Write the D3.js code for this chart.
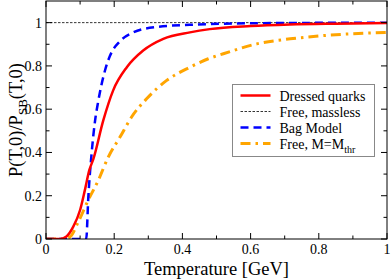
<!DOCTYPE html>
<html>
<head>
<meta charset="utf-8">
<script src="https://cdn.jsdelivr.net/npm/d3@7"></script>
<style>
  html, body { margin: 0; padding: 0; background: #fff; }
  svg { display: block; }
</style>
</head>
<body>
<svg id="chart" width="391" height="280"></svg>
<script>
// values: [T (GeV), P/P_SB]
const dressed = [
  [0, 0], [0.04, 0], [0.06, 0.012], [0.08, 0.057], [0.1, 0.134], [0.114, 0.226],
  [0.127, 0.318], [0.139, 0.37], [0.168, 0.548], [0.197, 0.687], [0.237, 0.794],
  [0.285, 0.871], [0.344, 0.925], [0.422, 0.955], [0.48, 0.97], [0.6, 0.984],
  [0.715, 0.991], [0.85, 0.995], [1.0, 0.998]
];
const massless = [[0, 1], [1, 1]];
const bag = [
  [0, 0], [0.118, 0], [0.124, 0.19], [0.134, 0.4], [0.144, 0.548], [0.153, 0.635],
  [0.173, 0.779], [0.188, 0.848], [0.217, 0.914], [0.256, 0.955], [0.325, 0.98],
  [0.422, 0.99], [0.6, 0.997], [1.0, 1.0]
];
const freeThr = [
  [0, 0], [0.045, 0], [0.07, 0.01], [0.095, 0.08], [0.124, 0.18], [0.153, 0.27],
  [0.183, 0.38], [0.217, 0.471], [0.251, 0.564], [0.295, 0.648], [0.354, 0.733],
  [0.422, 0.794], [0.476, 0.833], [0.52, 0.856], [0.618, 0.902], [0.716, 0.925],
  [0.813, 0.94], [1.0, 0.955]
];
const xTicks = [0, 0.2, 0.4, 0.6, 0.8, 1];
const yTicks = [0, 0.2, 0.4, 0.6, 0.8, 1];
const minorTicks = [0.1, 0.3, 0.5, 0.7, 0.9];
const legendItems = [
  { name: 'Dressed quarks', sub: null, color: '#ff0000', width: 2.5, dash: null },
  { name: 'Free, massless', sub: null, color: '#000', width: 0.8, dash: '2.5,1.5' },
  { name: 'Bag Model', sub: null, color: '#0000ff', width: 2.5, dash: '8,5' },
  { name: 'Free, M=M', sub: 'thr', color: '#ffa500', width: 3, dash: '10,5,2.5,5' }
];

const FONT = 'Liberation Serif';
const svg = d3.select('#chart').attr('font-family', FONT);
const m = { left: 46, right: 4, top: 1, bottom: 41 };
const W = 391, H = 280;

const x = d3.scaleLinear().domain([0, 1]).range([m.left, W - m.right]);
const y = d3.scaleLinear().domain([0, 1.1]).range([H - m.bottom, m.top]);

const line = d3.line().x(d => x(d[0])).y(d => y(d[1])).curve(d3.curveMonotoneX);

const plot = svg.append('g');
plot.append('clipPath').attr('id', 'clip')
  .append('rect').attr('x', x(0)).attr('y', y(1.1)).attr('width', x(1) - x(0)).attr('height', y(0) - y(1.1));

const curves = plot.append('g').attr('clip-path', 'url(#clip)');
const series = [
  { data: massless, s: legendItems[1] },
  { data: freeThr, s: legendItems[3] },
  { data: bag, s: legendItems[2] },
  { data: dressed, s: legendItems[0] }
];
series.forEach(({ data, s }) => {
  curves.append('path').datum(data)
    .attr('d', line)
    .attr('fill', 'none')
    .attr('stroke', s.color)
    .attr('stroke-width', s.width)
    .attr('stroke-dasharray', s.dash);
});

// frame + inward ticks on all four sides
const ax = svg.append('g').attr('stroke', '#000').attr('stroke-width', 1);
ax.append('rect')
  .attr('x', x(0)).attr('y', y(1.1))
  .attr('width', x(1) - x(0)).attr('height', y(0) - y(1.1))
  .attr('fill', 'none');

const tick = (x1, y1, x2, y2) => ax.append('line')
  .attr('x1', x1).attr('y1', y1).attr('x2', x2).attr('y2', y2);

xTicks.concat(minorTicks).forEach(t => {
  const len = xTicks.includes(t) ? 6 : 3.5;
  tick(x(t), y(0), x(t), y(0) - len);
  tick(x(t), y(1.1), x(t), y(1.1) + len);
});
yTicks.concat(minorTicks).forEach(t => {
  const len = yTicks.includes(t) ? 6 : 3.5;
  tick(x(0), y(t), x(0) + len, y(t));
  tick(x(1), y(t), x(1) - len, y(t));
});

// tick labels
const lab = svg.append('g').attr('font-family', FONT).attr('font-size', 14).attr('fill', '#000');
xTicks.forEach(t => {
  lab.append('text').attr('x', x(t)).attr('y', y(0) + 15)
    .attr('font-family', FONT)
    .attr('text-anchor', 'middle').text(d3.format('~g')(t));
});
yTicks.forEach(t => {
  lab.append('text').attr('x', x(0) - 4).attr('y', y(t) + 5)
    .attr('font-family', FONT)
    .attr('text-anchor', 'end').text(d3.format('~g')(t));
});

// axis titles
svg.append('text')
  .attr('x', (x(0) + x(1)) / 2).attr('y', H - 5)
  .attr('font-family', FONT)
  .attr('text-anchor', 'middle').attr('font-size', 18.5)
  .text('Temperature [GeV]');

const yl = svg.append('text')
  .attr('transform', `translate(22,${(y(0) + y(1.1)) / 2}) rotate(-90)`)
  .attr('font-family', FONT)
  .attr('text-anchor', 'middle').attr('font-size', 18.5);
yl.append('tspan').text('P(T,0)/P');
yl.append('tspan').attr('font-size', 13).attr('dy', 5).text('SB');
yl.append('tspan').attr('font-size', 18.5).attr('dy', -5).text('(T,0)');

// legend
const lg = svg.append('g').attr('transform', 'translate(232.5,84.5)');
lg.append('rect').attr('width', 142).attr('height', 72)
  .attr('fill', '#fff').attr('stroke', '#888').attr('stroke-width', 1);
legendItems.forEach((s, i) => {
  const cy = 11 + i * 16;
  lg.append('line').attr('x1', 8).attr('x2', 38).attr('y1', cy).attr('y2', cy)
    .attr('stroke', s.color).attr('stroke-width', s.width)
    .attr('stroke-dasharray', s.dash);
  const t = lg.append('text').attr('x', 47).attr('y', cy + 5)
    .attr('font-family', FONT).attr('font-size', 14);
  t.append('tspan').text(s.name);
  if (s.sub) t.append('tspan').attr('font-size', 10).attr('dy', 4).text(s.sub);
});
</script>
</body>
</html>
